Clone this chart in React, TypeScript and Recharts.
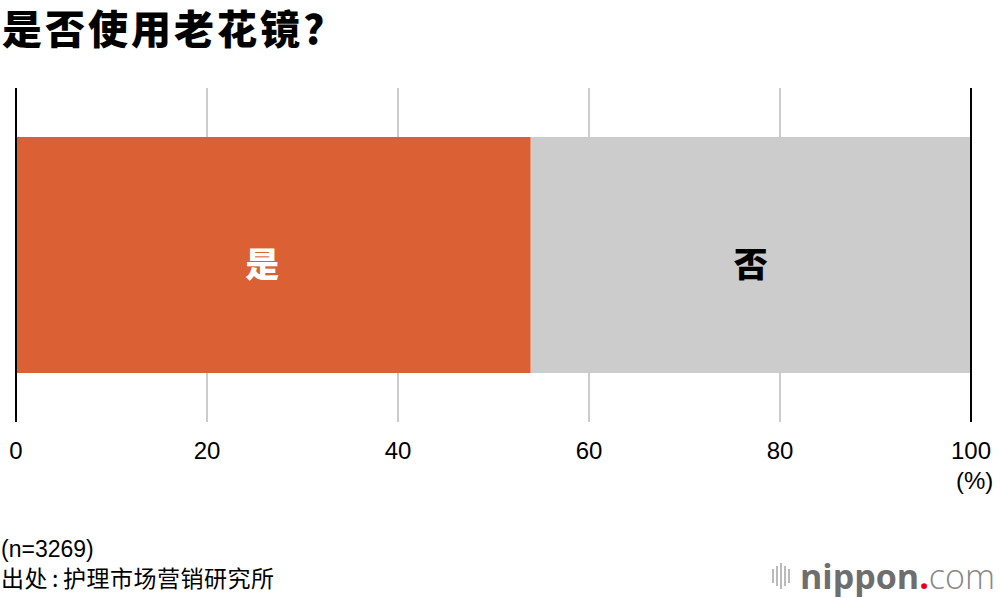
import React from 'react';
import { BarChart, Bar, XAxis, YAxis, CartesianGrid, ReferenceLine, LabelList } from 'recharts';

const CATEGORIES = ['是', '否'];
const VALUES = [53.9, 46.1];
const COLORS = ['#db6034', '#cccccc'];
const LABEL_COLORS = ['#ffffff', '#000000'];
const LABEL_DX = [-11, 0];
const TICKS = [0, 20, 40, 60, 80, 100];

const row: Record<string, string | number> = { name: 'all' };
CATEGORIES.forEach((c, i) => {
  row[c] = VALUES[i];
});
const data = [row];

const SANS = 'Helvetica, "Liberation Sans", Arial, sans-serif';
const CJK = '"Noto Sans CJK SC", sans-serif';

const App: React.FC = () => {
  return (
    <div style={{ position: 'absolute', top: 0, left: 0, width: 1000, height: 598, background: '#fff', fontFamily: SANS }}>
      <div
        style={{
          position: 'absolute', left: 2, top: 4, fontFamily: CJK, fontWeight: 900, fontSize: 40,
          letterSpacing: 3, lineHeight: '46px', color: '#000', whiteSpace: 'nowrap',
        }}
      >
        是否使用老花镜?
      </div>

      <div style={{ position: 'absolute', left: 0, top: 0 }}>
        <BarChart width={1000} height={598} data={data} layout="vertical" margin={{ top: 88, right: 29, bottom: 146, left: 16 }}>
          <CartesianGrid horizontal={false} stroke="#cccccc" strokeWidth={2} />
          <XAxis
            type="number"
            domain={[0, 100]}
            ticks={TICKS}
            axisLine={false}
            tickLine={false}
            tickMargin={14}
            tick={{ fill: '#000', fontSize: 24, fontFamily: SANS }}
            interval={0}
          />
          <YAxis type="category" dataKey="name" hide />
          {CATEGORIES.map((c, i) => (
            <Bar key={c} dataKey={c} stackId="a" fill={COLORS[i]} barSize={236} isAnimationActive={false}>
              <LabelList
                dataKey={c}
                position="center"
                formatter={() => c}
                fill={LABEL_COLORS[i]}
                dx={LABEL_DX[i]}
                dy={10}
                style={{ fontSize: 34, fontWeight: 900, fontFamily: CJK }}
              />
            </Bar>
          ))}
          <ReferenceLine x={0} stroke="#000" strokeWidth={2} />
          <ReferenceLine x={100} stroke="#000" strokeWidth={2} />
        </BarChart>
      </div>

      <div style={{ position: 'absolute', left: 956, top: 467, fontSize: 24, color: '#000' }}>(%)</div>

      <div style={{ position: 'absolute', left: 1, top: 536, fontSize: 23, color: '#000', lineHeight: '27px' }}>(n=3269)</div>
      <div style={{ position: 'absolute', left: 1, top: 562, fontSize: 23, color: '#000', lineHeight: '30px', fontFamily: CJK, letterSpacing: 0.5 }}>
        出处<span style={{ margin: '0 4px' }}>:</span>护理市场营销研究所
      </div>

      <div style={{ position: 'absolute', left: 772, top: 562, display: 'flex', alignItems: 'center', height: 28 }}>
        {[14, 20, 26, 20, 14].map((h, i) => (
          <div key={i} style={{ width: 2, height: h, background: '#bbb', marginRight: 2 }} />
        ))}
        <span style={{ marginLeft: 8, fontFamily: '"Open Sans", sans-serif', fontSize: 34, fontWeight: 700, color: '#6e6e6e', lineHeight: '28px' }}>
          nippon
        </span>
        <span style={{ fontFamily: '"Open Sans", sans-serif', fontSize: 34, fontWeight: 700, color: '#e60012', lineHeight: '28px' }}>.</span>
        <span style={{ fontFamily: '"Open Sans", sans-serif', fontSize: 34, fontWeight: 300, color: '#888', lineHeight: '28px' }}>com</span>
      </div>
    </div>
  );
};

export default App;
